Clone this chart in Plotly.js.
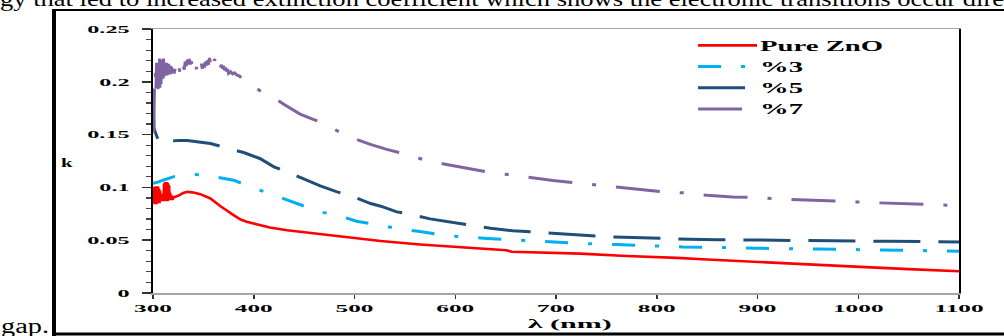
<!DOCTYPE html>
<html>
<head>
<meta charset="utf-8">
<script src="https://cdn.plot.ly/plotly-3.0.1.min.js"></script>
<style>
  html, body { margin:0; padding:0; background:#fff; }
  #wrap { position:relative; width:1004px; height:336px; overflow:hidden; }
  #chart { position:absolute; left:0; top:0; width:1004px; height:336px; }
  #deco { position:absolute; left:0; top:0; pointer-events:none; }
</style>
</head>
<body>
<div id="wrap">
  <div id="chart"></div>
  <svg id="deco" width="1004" height="336">
    <text x="0" y="5.7" textLength="1004" lengthAdjust="spacingAndGlyphs"
      font-family="Liberation Serif" font-size="21" fill="#000">gy that led to increased extinction coefficient which shows the electronic transitions occur dire</text>
    <text x="1" y="333" textLength="48" lengthAdjust="spacingAndGlyphs"
      font-family="Liberation Serif" font-size="20" fill="#000">gap.</text>
    <line x1="52" y1="10" x2="1004" y2="10" stroke="#000" stroke-width="1.8"/>
    <line x1="54" y1="9" x2="54" y2="336" stroke="#000" stroke-width="4"/>
    <line x1="52" y1="334" x2="1004" y2="334" stroke="#000" stroke-width="3"/>
  </svg>
</div>
<script>
// ---- data ----
var seriesNames = ["Pure ZnO", "%3", "%5", "%7"];

var pureX = [300,300.5,301,301.5,302,302.5,303,303.5,304,304.5,305,305.5,306,306.5,307,307.5,308,308.5,309,309.5,
  310,310.5,311,311.5,312,312.5,313,313.5,314,314.5,315,315.5,316,316.5,317,317.5,318,318.5,319,319.5,320,
  325,330,334,340,347,357,367,380,384,387,393,400,416,433,466,499,526,565,592,620,651,656,690,724,770,803,820,850,903,950,1002,1050,1100];
var pureK = [0.097,0.085,0.100,0.084,0.101,0.085,0.100,0.084,0.101,0.085,0.101,0.086,0.099,0.085,0.097,0.087,0.094,0.087,0.093,0.087,
  0.094,0.087,0.104,0.087,0.105,0.087,0.104,0.088,0.105,0.087,0.104,0.088,0.102,0.088,0.095,0.088,0.093,0.088,0.092,0.088,0.0905,
  0.092,0.0948,0.0958,0.0952,0.0936,0.0895,0.0822,0.0737,0.0712,0.0696,0.0675,0.0658,0.0620,0.0594,0.0556,0.0525,0.0493,0.0460,0.0442,0.0424,0.0405,0.0390,0.0380,0.0373,0.0350,0.0341,0.0333,0.0317,0.0291,0.0270,0.0247,0.0226,0.0206];

var p3X = [300,305,310,320,330,340,350,363,380,397,420,446,466,483,502,526,542,563,595,628,661,694,727,760,794,826,873,898,959,1007,1073,1100];
var p3K = [0.104,0.105,0.1068,0.110,0.1115,0.1122,0.112,0.110,0.1068,0.1005,0.0926,0.0831,0.0768,0.0737,0.068,0.0642,0.061,0.0585,0.054,0.0519,0.050,0.0484,0.0468,0.0459,0.0446,0.0436,0.043,0.0424,0.0417,0.0408,0.0398,0.0396];

var p5X = [300,300.5,301,302,303,304,305,306,307,310,317,325,334,345,357,373,390,406,420,435,449,466,482,499,516,526,542,555,575,595,615,635,657,680,701,723,746,767,790,812,833,860,898,930,966,1000,1032,1065,1100];
var p5K = [0.190,0.172,0.156,0.153,0.150,0.147,0.144,0.1428,0.1425,0.1432,0.1438,0.1445,0.1445,0.143,0.1416,0.1375,0.133,0.1274,0.1195,0.114,0.1084,0.1014,0.096,0.091,0.0847,0.0822,0.0768,0.0746,0.0702,0.067,0.0642,0.0613,0.059,0.0575,0.0563,0.055,0.0535,0.0528,0.052,0.0516,0.0509,0.0505,0.050,0.0497,0.0493,0.0492,0.049,0.0487,0.0484];

var p7X = [300.6,300.8,301,301.5,302,302.5,303,303.5,304,304.5,305,305.5,306,306.5,307,307.5,308,308.5,309,309.5,310,310.5,311,311.5,312,312.5,313,313.5,314,314.5,315,315.5,316,316.5,317,317.5,318,318.5,319,
  320,321,322,323,324,325,326,327,328,329,330,331,332,333,334,335,336,337,338,339,340,341,342,343,344,345,346,347,348,349,
  350,351,352,353,354,355,356,357,358,359,360,361,362,363,364,365,366,367,368,369,370,371,372,373,374,375,377,379,381,383,386,388,393,
  400,407,416,420,431,446,459,466,482,499,515,532,553,570,590,611,631,652,675,697,719,741,762,784,806,828,850,875,898,920,942,965,989,1010,1032,1055,1078,1100];
var p7K = [0.152,0.170,0.188,0.196,0.192,0.212,0.194,0.218,0.195,0.220,0.193,0.221,0.196,0.222,0.194,0.220,0.198,0.221,0.200,0.219,0.203,0.222,0.205,0.220,0.206,0.219,0.207,0.218,0.206,0.217,0.208,0.217,0.208,0.216,0.207,0.215,0.208,0.214,0.209,
  0.212,0.208,0.2125,0.207,0.2115,0.2075,0.2125,0.2085,0.214,0.210,0.2165,0.2115,0.219,0.215,0.221,0.2165,0.2215,0.2165,0.2195,0.2135,0.2165,0.2115,0.216,0.212,0.218,0.2145,0.218,0.2135,0.217,0.2125,
  0.217,0.2135,0.219,0.2155,0.220,0.216,0.2225,0.2185,0.225,0.2205,0.225,0.220,0.222,0.217,0.219,0.2145,0.218,0.214,0.216,0.2125,0.215,0.211,0.2135,0.210,0.212,0.208,0.2095,0.2075,0.2085,0.2065,0.2055,0.203,0.200,
  0.196,0.191,0.187,0.185,0.178,0.1694,0.1644,0.162,0.154,0.1464,0.141,0.136,0.131,0.1258,0.122,0.118,0.1147,0.1122,0.109,0.1065,0.1043,0.1021,0.0995,0.0974,0.0958,0.0948,0.0925,0.091,0.0904,0.0891,0.0885,0.0875,0.0866,0.0857,0.085,0.0842,0.0834,0.0828];

var xTickVals = [300,400,500,600,700,800,900,1000,1100];
var xTickText = ["300","400","500","600","700","800","900","1000","1100"];
var yTickVals = [0,0.05,0.1,0.15,0.2,0.25];
var yTickText = ["0","0.05","0.1","0.15","0.2","0.25"];

// ---- chart ----
var serif = "Liberation Serif, Times New Roman, serif";
var traces = [
  {x: pureX, y: pureK, name: seriesNames[0], mode: "lines", line: {color: "#ff0000", width: 2.6}},
  {x: p3X, y: p3K, name: seriesNames[1], mode: "lines", line: {color: "#00b0f0", width: 3, dash: "23px,20px,4px,20px"}},
  {x: p5X, y: p5K, name: seriesNames[2], mode: "lines", line: {color: "#1f4e79", width: 3, dash: "47px,18px"}},
  {x: p7X, y: p7K, name: seriesNames[3], mode: "lines", line: {color: "#8064a2", width: 3, dash: "44px,20px,4px,20px"}}
];

var layout = {
  width: 1004, height: 336,
  margin: {l: 153, r: 45, t: 29, b: 43},
  paper_bgcolor: "rgba(0,0,0,0)", plot_bgcolor: "#fff",
  showlegend: true,
  legend: {x: 0.6663, y: 0.997, xanchor: "left", yanchor: "top", bgcolor: "rgba(0,0,0,0)",
    font: {family: serif, size: 14, weight: "bold", color: "#000"}, itemwidth: 60, tracegroupgap: 0},
  xaxis: {range: [300, 1100], tickvals: xTickVals, ticktext: xTickText,
    showline: true, linecolor: "#a6a6a6", linewidth: 1.5, mirror: true,
    ticks: "outside", ticklen: 4, tickwidth: 1.5, tickcolor: "#333",
    showgrid: false, zeroline: false,
    tickfont: {family: serif, size: 11, weight: "bold", color: "#000"}},
  yaxis: {range: [0, 0.25], tickvals: yTickVals, ticktext: yTickText,
    showline: true, linecolor: "#000", linewidth: 2.2, mirror: true,
    ticks: "outside", ticklen: 9, tickwidth: 1.5, tickcolor: "#333",
    minor: {dtick: 0.01, ticks: "outside", ticklen: 5, tickwidth: 1.2, tickcolor: "#444", showgrid: false},
    ticklabelstandoff: 10,
    showgrid: false, zeroline: false,
    tickfont: {family: serif, size: 11, weight: "bold", color: "#000"}},
  annotations: [
    {text: "k", xref: "paper", yref: "paper", x: -0.1061, y: 0.496, showarrow: false,
      xanchor: "center", yanchor: "middle", font: {family: serif, size: 13, weight: "bold", color: "#000"}},
    {text: "λ (nm)", xref: "paper", yref: "paper", x: 0.5174, y: -0.1174, showarrow: false,
      xanchor: "center", yanchor: "middle", font: {family: serif, size: 12, weight: "bold", color: "#000"}}
  ]
};

function stretch(sel, factor) {
  document.querySelectorAll(sel).forEach(function (el) {
    var w = el.getComputedTextLength();
    if (w > 0) {
      el.setAttribute("textLength", (w * factor).toFixed(2));
      el.setAttribute("lengthAdjust", "spacingAndGlyphs");
    }
  });
}
function setLen(sel, len) {
  document.querySelectorAll(sel).forEach(function (el) {
    el.setAttribute("textLength", len);
    el.setAttribute("lengthAdjust", "spacingAndGlyphs");
  });
}

function finish() {
  stretch(".xtick text", 2.3);
  stretch(".ytick text", 2.2);
  stretch(".legendtext", 2.05);
  setLen('.annotation[data-index="0"] text', 11.5);
  setLen('.annotation[data-index="1"] text', 84);
  // let the widened legend text show fully and lengthen the legend line samples
  document.querySelectorAll(".legend [clip-path]").forEach(function (el) { el.removeAttribute("clip-path"); });
  document.querySelectorAll("#chart .legend path").forEach(function (el) {
    var bb;
    try { bb = el.getBBox(); } catch (e) { return; }
    if (bb.height < 1 && bb.width > 20 && bb.width < 80) {
      el.setAttribute("d", "M8,0h59");
    }
  });
}

Plotly.newPlot("chart", traces, layout, {displayModeBar: false, staticPlot: true}).then(finish);
</script>
</body>
</html>
